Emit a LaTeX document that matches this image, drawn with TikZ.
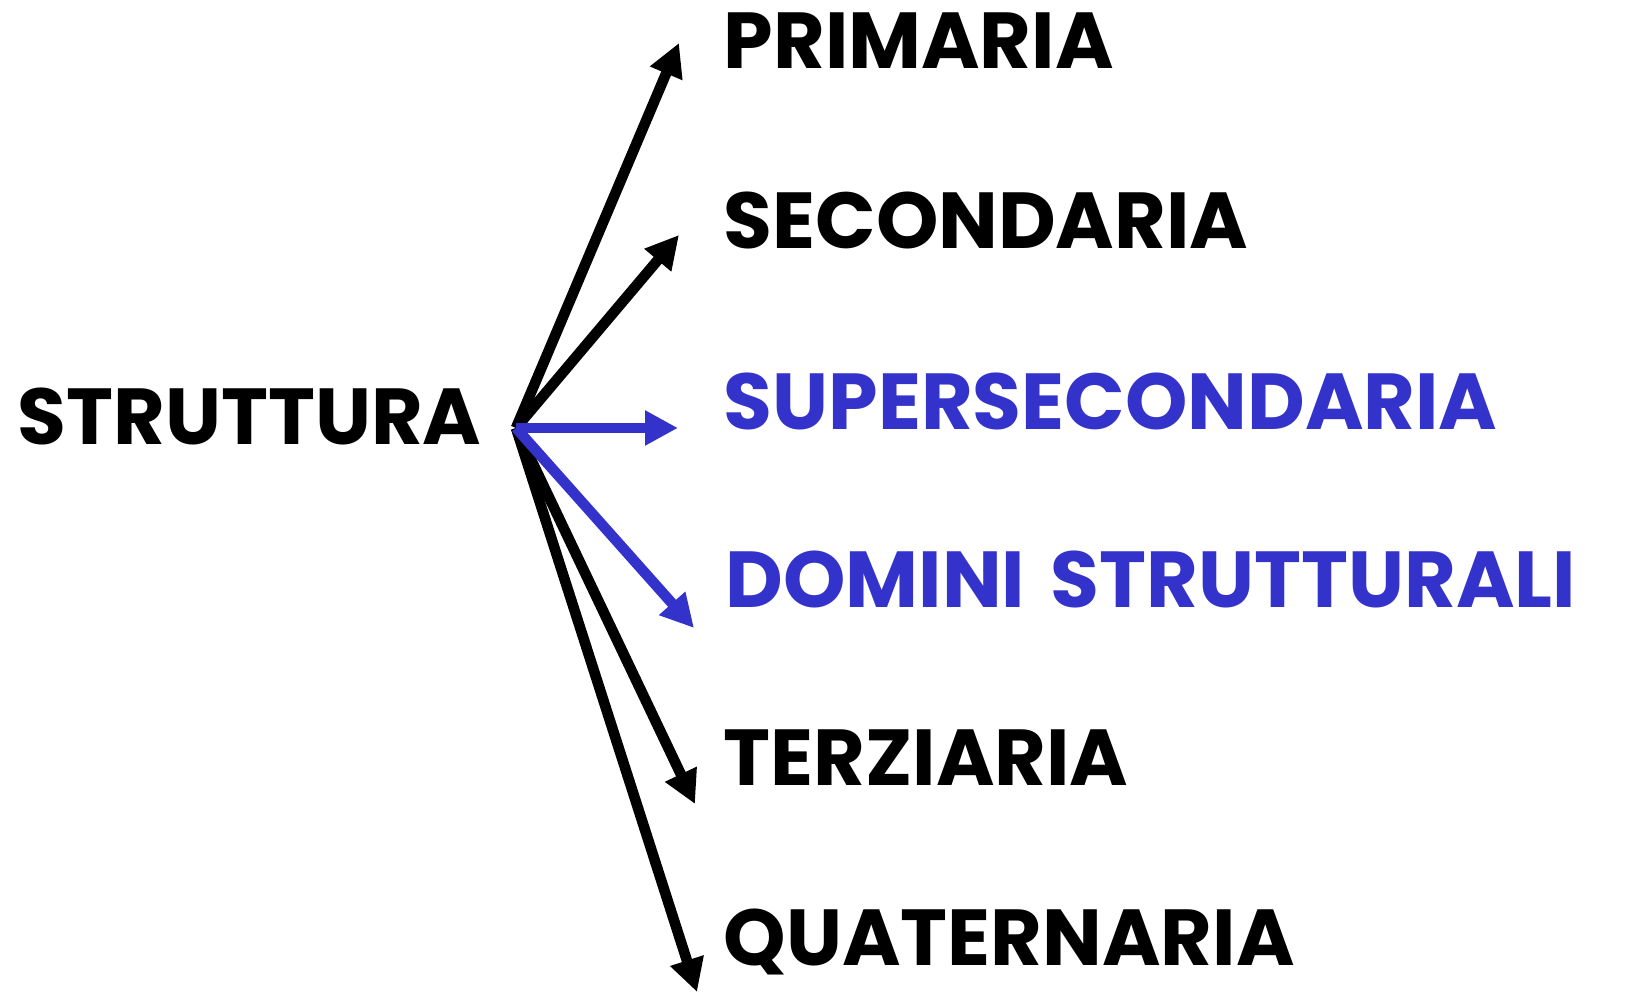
\documentclass[tikz,border=0pt]{standalone}
\usepackage{fontspec}
\setmainfont{Poppins}
\usepackage{xcolor}
\usetikzlibrary{arrows.meta}
\definecolor{azzurro}{RGB}{51,51,204}
\tikzset{
    livello/.style={anchor=base west, inner sep=0pt, font=\fontsize{22.6}{23}\selectfont\bfseries},
    freccia/.style={-{Triangle[length=0.33cm, width=0.33cm]}, line width=3pt},
    frecciablu/.style={freccia, azzurro}
}
\begin{document}
\begin{tikzpicture}
\useasboundingbox (0,0) rectangle (16.43,9.94);
% Titolo a sinistra
\node[livello] (str) at (0.17,5.49) {STRUTTURA};
\coordinate (o) at (5.16,5.66);

% Livelli
\node[livello] (prim) at (7.23,9.25) {PRIMARIA};
\node[livello] (sec) at (7.23,7.45) {SECONDARIA};
\node[livello, azzurro] (sup) at (7.23,5.64) {SUPERSECONDARIA};
\node[livello, azzurro] (dom) at (7.25,3.86) {DOMINI\hspace{0.32em}STRUTTURALI};
\node[livello] (ter) at (7.23,2.08) {TERZIARIA};
\node[livello] (qua) at (7.23,0.28) {QUATERNARIA};

% Punte delle frecce
\coordinate (tprim) at (6.79,9.51);
\coordinate (tsec) at (6.79,7.59);
\coordinate (tsup) at (6.78,5.66);
\coordinate (tdom) at (6.94,3.66);
\coordinate (tter) at (6.95,1.90);
\coordinate (tqua) at (6.97,0.02);

% Frecce
\draw[freccia] (o) -- (tprim);
\draw[freccia] (o) -- (tsec);
\draw[freccia] (o) -- (tter);
\draw[freccia] (o) -- (tqua);
\draw[frecciablu] (o) -- (tsup);
\draw[frecciablu] (o) -- (tdom);
\end{tikzpicture}
\end{document}
